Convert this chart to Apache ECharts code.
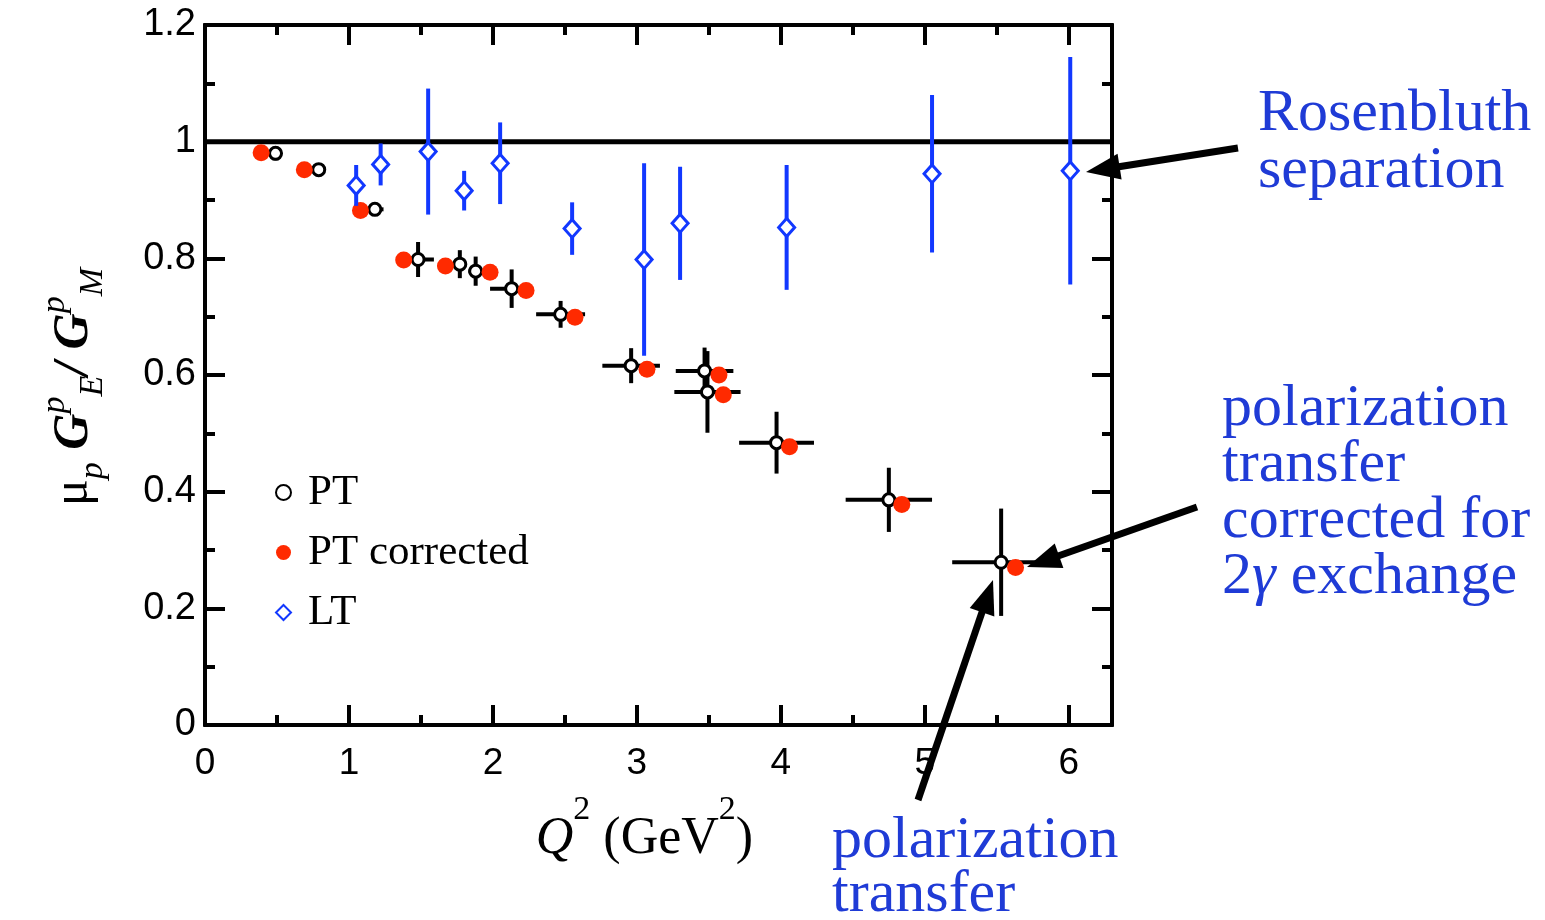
<!DOCTYPE html>
<html><head><meta charset="utf-8">
<script src="https://cdn.jsdelivr.net/npm/echarts@6/dist/echarts.min.js"></script>
<style>html,body{margin:0;padding:0;background:#fff}#c{width:1545px;height:920px}</style>
</head><body><div id="c"></div>
<script>
// ---- data ----
const ptX    = [0.49, 0.79, 1.18, 1.48, 1.77, 1.88, 2.13, 2.47, 2.96, 3.47, 3.49, 3.97, 4.75, 5.53];
const ptY    = [0.980,0.952,0.884,0.798,0.790,0.778,0.748,0.704,0.616,0.607,0.571,0.484,0.386,0.279];
const ptXErr = [0,    0,    0.06, 0.11, 0.05, 0.05, 0.15, 0.17, 0.20, 0.20, 0.23, 0.26, 0.30, 0.34];
const ptYErr = [0.012,0,    0.01, 0.03, 0.024,0.025,0.033,0.023,0.03, 0.04, 0.07, 0.053,0.055,0.092];
const corrX  = [0.39, 0.69, 1.08, 1.38, 1.67, 1.98, 2.23, 2.57, 3.07, 3.57, 3.60, 4.06, 4.84, 5.63];
const corrY  = [0.981,0.952,0.882,0.797,0.787,0.776,0.745,0.699,0.610,0.600,0.566,0.477,0.378,0.270];
const ltX    = [1.05, 1.22, 1.55, 1.80, 2.05, 2.55, 3.05, 3.30, 4.04, 5.05, 6.01];
const ltY    = [0.925,0.961,0.983,0.916,0.963,0.851,0.798,0.860,0.853,0.945,0.950];
const ltYErr = [0.035,0.036,0.108,0.034,0.070,0.045,0.165,0.097,0.107,0.135,0.195];
const unityX = [0, 6.3];
const unityY = [1, 1];
const xMajor = [0, 1, 2, 3, 4, 5, 6];
const xMinor = [0.5, 1.5, 2.5, 3.5, 4.5, 5.5];
const yMajor = [0, 0.2, 0.4, 0.6, 0.8, 1, 1.2];
const yMinor = [0.1, 0.3, 0.5, 0.7, 0.9, 1.1];

const BLUE = '#1238ff', TBLUE = '#1f3bd6', RED = '#ff2a00';
const SERIF = 'Liberation Serif', SANS = 'Liberation Sans';

const chart = echarts.init(document.getElementById('c'), null, {renderer: 'canvas'});

function xAx(pos, major, labels) {
  return {
    type: 'value', min: 0, max: 6.3, position: pos,
    axisLine: {show: true, onZero: false, lineStyle: {color: '#000', width: 4}},
    axisTick: {show: true, inside: true, length: major ? 20 : 10, customValues: major ? xMajor : xMinor,
               lineStyle: {color: '#000', width: 4}},
    axisLabel: {show: labels, customValues: xMajor, margin: 20, color: '#000', fontFamily: SANS, fontSize: 37},
    splitLine: {show: false}
  };
}
function yAx(pos, major, labels) {
  return {
    type: 'value', min: 0, max: 1.2, position: pos,
    axisLine: {show: true, onZero: false, lineStyle: {color: '#000', width: 4}},
    axisTick: {show: true, inside: true, length: major ? 20 : 10, customValues: major ? yMajor : yMinor,
               lineStyle: {color: '#000', width: 4}},
    axisLabel: {show: labels, customValues: yMajor, margin: 9, color: '#000', fontFamily: SANS, fontSize: 38},
    splitLine: {show: false}
  };
}

function errItem(color) {
  return function (params, api) {
    const x = api.value(0), y = api.value(1), dx = api.value(2), dy = api.value(3);
    const ch = [];
    if (dx > 0) {
      const a = api.coord([x - dx, y]), b = api.coord([x + dx, y]);
      ch.push({type: 'line', shape: {x1: a[0], y1: a[1], x2: b[0], y2: b[1]}, style: {stroke: color, lineWidth: 4}});
    }
    if (dy > 0) {
      const a = api.coord([x, y - dy]), b = api.coord([x, y + dy]);
      ch.push({type: 'line', shape: {x1: a[0], y1: a[1], x2: b[0], y2: b[1]}, style: {stroke: color, lineWidth: 4}});
    }
    return {type: 'group', children: ch};
  };
}

function arrow(x1, y1, x2, y2) {
  const L = 34, W = 13;
  const dx = x2 - x1, dy = y2 - y1, len = Math.hypot(dx, dy);
  const ux = dx / len, uy = dy / len, nx = -uy, ny = ux;
  const bx = x2 - ux * L, by = y2 - uy * L;
  return [
    {type: 'line', shape: {x1: x1, y1: y1, x2: bx + ux * 4, y2: by + uy * 4}, style: {stroke: '#000', lineWidth: 7}, z: 100},
    {type: 'polygon', shape: {points: [[x2, y2], [bx + nx * W, by + ny * W], [bx - nx * W, by - ny * W]]},
     style: {fill: '#000'}, z: 100}
  ];
}

const option = {
  animation: false,
  backgroundColor: '#fff',
  grid: {left: 205, top: 25, right: 433, bottom: 195, containLabel: false, outerBoundsMode: 'none'},
  xAxis: [
    Object.assign(xAx('bottom', true, true), {
      name: '{q|Q}{s|2}{n| (GeV}{s|2}{n|)}', nameLocation: 'middle', nameGap: 68,
      nameTextStyle: {padding: [0, 28, 0, 0], rich: {
        q: {fontFamily: SERIF, fontStyle: 'italic', fontSize: 52, lineHeight: 72, verticalAlign: 'bottom', color: '#000'},
        n: {fontFamily: SERIF, fontSize: 52, lineHeight: 72, verticalAlign: 'bottom', color: '#000'},
        s: {fontFamily: SERIF, fontSize: 34, lineHeight: 34, verticalAlign: 'top', color: '#000'}
      }}
    }),
    xAx('bottom', false, false),
    xAx('top', true, false),
    xAx('top', false, false)
  ],
  yAxis: [yAx('left', true, true), yAx('left', false, false), yAx('right', true, false), yAx('right', false, false)],
  legend: {
    orient: 'vertical', left: 270, top: 466, itemWidth: 15, itemHeight: 15, itemGap: 17,
    data: ['PT', 'PT corrected', 'LT'],
    textStyle: {fontFamily: SERIF, fontSize: 43, lineHeight: 42, color: '#000', padding: [0, 0, 0, 12]}
  },
  series: [
    {type: 'line', name: 'unity', data: unityX.map((x, i) => [x, unityY[i]]), symbol: 'none', silent: true,
     lineStyle: {color: '#000', width: 5}, z: 1},
    {type: 'custom', name: 'PT err', data: ptX.map((x, i) => [x, ptY[i], ptXErr[i], ptYErr[i]]),
     renderItem: errItem('#000'), z: 2, silent: true},
    {type: 'scatter', name: 'PT', data: ptX.map((x, i) => [x, ptY[i]]), symbol: 'circle', symbolSize: 12,
     itemStyle: {color: '#fff', borderColor: '#000', borderWidth: 3, opacity: 1}, z: 3},
    {type: 'scatter', name: 'PT corrected', data: corrX.map((x, i) => [x, corrY[i]]), symbol: 'circle', symbolSize: 17,
     itemStyle: {color: RED, opacity: 1}, z: 4},
    {type: 'custom', name: 'LT err', data: ltX.map((x, i) => [x, ltY[i], 0, ltYErr[i]]),
     renderItem: errItem(BLUE), z: 5, silent: true},
    {type: 'scatter', name: 'LT', data: ltX.map((x, i) => [x, ltY[i]]), symbol: 'diamond', symbolSize: [16, 18],
     itemStyle: {color: '#fff', borderColor: BLUE, borderWidth: 3, opacity: 1}, z: 6}
  ],
  graphic: [
    {type: 'text', left: 38, top: 268, rotation: Math.PI / 2, originX: 0, originY: 0,
     style: {
       text: '{m|μ}{sb|p}{g| G}{sp|p}{sb|E}{g|/ G}{sp|p}{sb|M}',
       x: 0, y: 0, align: 'left', verticalAlign: 'top',
       rich: {
         m: {fontFamily: SERIF, fontSize: 50, lineHeight: 72, verticalAlign: 'middle', fill: '#000'},
         g: {fontFamily: SERIF, fontStyle: 'italic', fontWeight: 'bold', fontSize: 50, lineHeight: 72, verticalAlign: 'middle', fill: '#000'},
         sp: {fontFamily: SERIF, fontStyle: 'italic', fontSize: 34, lineHeight: 34, verticalAlign: 'top', fill: '#000'},
         sb: {fontFamily: SERIF, fontStyle: 'italic', fontSize: 34, lineHeight: 34, verticalAlign: 'bottom', fill: '#000'}
       }
     }},
    {type: 'text', left: 1258, top: 84,
     style: {text: 'Rosenbluth\nseparation', fontFamily: SERIF, fontSize: 60, lineHeight: 57, fill: TBLUE}},
    {type: 'text', left: 1222, top: 379,
     style: {text: '{n|polarization}\n{n|transfer}\n{n|corrected for}\n{n|2}{i|γ}{n| exchange}',
       rich: {
         n: {fontFamily: SERIF, fontSize: 60, lineHeight: 56, fill: TBLUE},
         i: {fontFamily: SERIF, fontStyle: 'italic', fontSize: 60, lineHeight: 56, fill: TBLUE}
       }}},
    {type: 'text', left: 832, top: 811,
     style: {text: 'polarization\ntransfer', fontFamily: SERIF, fontSize: 60, lineHeight: 54, fill: TBLUE}},
    ...arrow(1238, 148, 1086, 172),
    ...arrow(1197, 507, 1027, 567),
    ...arrow(918, 800, 993, 580)
  ]
};
chart.setOption(option);
</script>
</body></html>
